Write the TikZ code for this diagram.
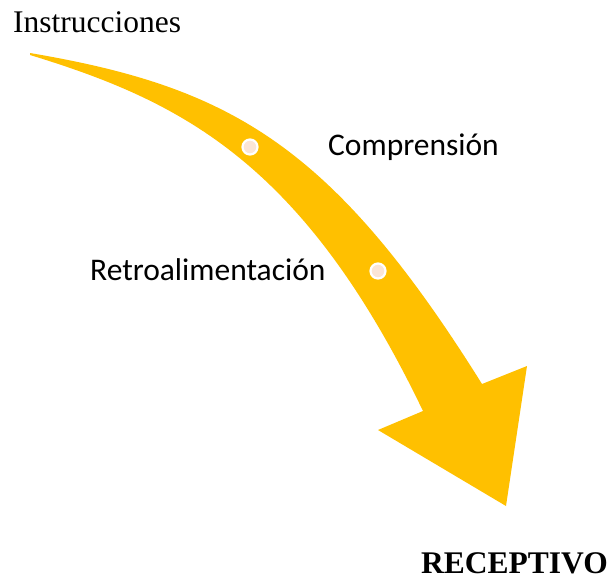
\documentclass[tikz,border=0pt]{standalone}
\usepackage{fontspec}
\setmainfont{Liberation Serif}
\newfontfamily\calfont{Carlito}
\usepackage{tikz}
\usetikzlibrary{positioning}
\definecolor{gold}{HTML}{FFC000}
\definecolor{peach}{HTML}{FBE5D6}
\tikzset{
  lblserif/.style={ anchor=base west, inner sep=0pt, font=\fontsize{31.5}{36}\selectfont }
}
\tikzset{
  lblsans/.style={ anchor=base west, inner sep=0pt, font=\calfont\fontsize{31.5}{36}\selectfont }
}
\tikzset{
  dot/.style={ circle, draw=white, line width=2.2pt, fill=peach, inner sep=0pt, minimum size=15pt }
}

\begin{document}
\begin{tikzpicture}[x=1pt, y=-1pt]
      \useasboundingbox (0, 0) rectangle (611, 579);
      % curved arrow
      \fill[gold] (30, 53) .. controls (230, 87) and (332, 144) .. (482, 384)
        -- (527, 366) -- (506, 506) -- (378, 430) -- (423, 411)
        .. controls (303, 161) and (180, 101) .. (30, 55) -- cycle;
      \node[dot] (d1) at (250, 147) {};
      \node[dot] (d2) at (378, 271) {};
      \node[lblserif] (instr) at (13, 32) {Instrucciones};
      \node[lblsans] (comp) at (328, 155) {Comprensión};
      \node[lblsans] (retro) at (90, 280) {Retroalimentación};
      \node[lblserif, font=\bfseries\fontsize{31.5}{36}\selectfont] (recep) at (421, 573) {RECEPTIVO};
    \end{tikzpicture}
\end{document}
